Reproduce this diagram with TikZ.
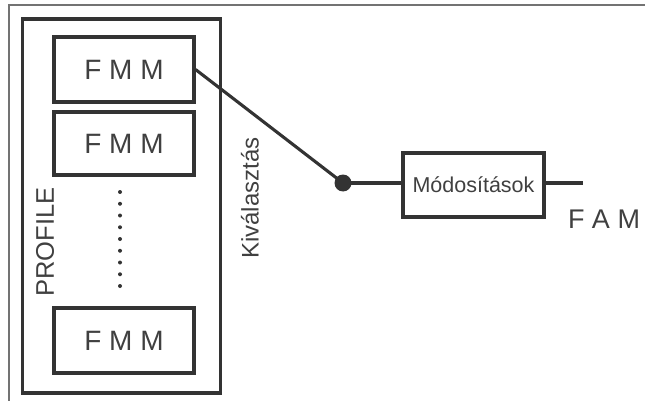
\documentclass[tikz,border=0pt]{standalone}
\usepackage{fontspec}
\setmainfont{Liberation Sans}
\begin{document}
\begin{tikzpicture}[x=1pt,y=-1pt,
  ink/.style={draw=black!80, line width=3.1pt},
  modbox/.style={ink, rectangle, inner sep=0pt, anchor=center},
  fmmbox/.style={modbox, minimum width=140pt, minimum height=65pt,
                 font=\fontsize{28}{32}\selectfont, text=black!75},
  frameline/.style={draw=black!55, line width=1.3pt}]
  \useasboundingbox (0,0) rectangle (645,401);
  % outer page frame (top and left edges)
  \draw[frameline] (9,401) -- (9,5) -- (645,5);
  % profile container
  \node[modbox, minimum width=198pt, minimum height=374pt] (profile) at (121.7,206) {};
  \node[fmmbox] (fmm1) at (124,69.5) {F M M};
  \node[fmmbox, minimum height=63pt] (fmm2) at (124,143.5) {F M M};
  \node[fmmbox] (fmm3) at (124,340.5) {F M M};
  % ellipsis between the module boxes
  \coordinate (dtop) at (120,192);
  \coordinate (dbot) at (120,286);
  \draw[draw=black!80, line width=4pt, line cap=round, dash pattern=on 0pt off 11.75pt] (dtop) -- (dbot);
  \node[rotate=90, font=\fontsize{25.5}{30}\selectfont, text=black!75] (proflabel) at (45,242) {PROFILE};
  \node[rotate=90, font=\fontsize{24}{28}\selectfont, text=black!75] (sellabel) at (250,198) {Kiválasztás};
  % selector switch
  \node[circle, fill=black!80, inner sep=0pt, minimum size=17pt] (sw) at (343,183) {};
  \node[modbox, minimum width=141pt, minimum height=64pt,
        font=\fontsize{21.5}{26}\selectfont, text=black!75] (mod) at (473.5,185) {Módosítások};
  \coordinate (out) at (583,183);
  \node[font=\fontsize{27}{32}\selectfont, text=black!75] (fam) at (604,219) {F A M};
  \draw[ink] (fmm1.east) -- (sw.center);
  \draw[ink] (sw.center) -- (sw.center -| mod.west);
  \draw[ink] (sw.center -| mod.east) -- (out);
\end{tikzpicture}
\end{document}
